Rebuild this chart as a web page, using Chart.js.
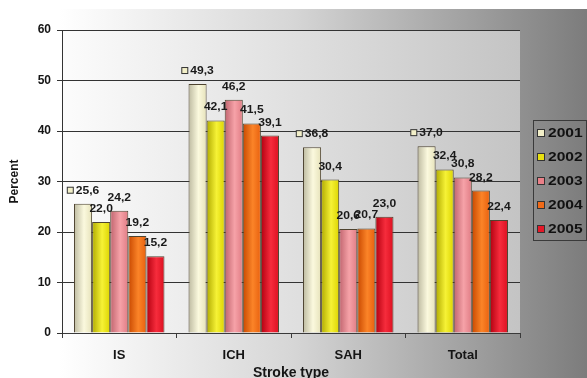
<!DOCTYPE html>
<html>
<head>
<meta charset="utf-8">
<script src="https://cdn.jsdelivr.net/npm/chart.js@4/dist/chart.umd.min.js"></script>
<style>
  html, body { margin: 0; padding: 0; background: #ffffff; }
  #wrap { width: 587px; height: 378px; position: relative; }
</style>
</head>
<body>
<div id="wrap"><canvas id="chart" width="587" height="378"></canvas></div>
<script>
// Stroke share by type and year (percent)
const categories = ['IS', 'ICH', 'SAH', 'Total'];
const years = ['2001', '2002', '2003', '2004', '2005'];
const values2001 = [25.6, 49.3, 36.8, 37.0];
const values2002 = [22.0, 42.1, 30.4, 32.4];
const values2003 = [24.2, 46.2, 20.6, 30.8];
const values2004 = [19.2, 41.5, 20.7, 28.2];
const values2005 = [15.2, 39.1, 23.0, 22.4];
const yTicks = [0, 10, 20, 30, 40, 50, 60];

const seriesValues = [values2001, values2002, values2003, values2004, values2005];
const baseColors = ['#f2efc8', '#e8e010', '#ea8088', '#f06a18', '#e41828'];
// [left edge, highlight, right edge] for the shaded bar faces
const shades = [
  ['#bdbaa0', '#fbf9de', '#e6e2ba'],
  ['#b0aa00', '#f6f236', '#dcd400'],
  ['#c0646e', '#f6a2a8', '#e07c84'],
  ['#c84800', '#fb8428', '#e8600e'],
  ['#b20010', '#f62c3c', '#dc1020']
];
const FONT = '"Liberation Sans", Arial, sans-serif';

const fmt = v => v.toFixed(1).replace('.', ',');

const backgroundPlugin = {
  id: 'bg',
  beforeDraw(chart) {
    const { ctx, width, height, chartArea: a } = chart;
    ctx.save();
    ctx.fillStyle = '#ffffff';
    ctx.fillRect(0, 0, width, height);
    const g = ctx.createLinearGradient(0, 0, width, 0);
    g.addColorStop(0, '#ffffff');
    g.addColorStop(0.1, '#ffffff');
    g.addColorStop(0.5, '#d6d6d6');
    g.addColorStop(1, '#7c7c7c');
    ctx.fillStyle = g;
    ctx.fillRect(0, 9, width, height - 9);
    const p = ctx.createLinearGradient(a.left, 0, a.right, 0);
    p.addColorStop(0, '#fcfcfc');
    p.addColorStop(1, '#c4c4c4');
    ctx.fillStyle = p;
    ctx.fillRect(a.left, a.top, a.right - a.left, a.bottom - a.top);
    ctx.restore();
  }
};

const barShadePlugin = {
  id: 'barShade',
  beforeDatasetsDraw(chart) {
    const ctx = chart.ctx;
    chart.data.datasets.forEach((ds, di) => {
      const meta = chart.getDatasetMeta(di);
      meta.data.forEach(bar => {
        const half = bar.width / 2;
        const g = ctx.createLinearGradient(bar.x - half, 0, bar.x + half, 0);
        const s = shades[di];
        g.addColorStop(0, s[0]);
        g.addColorStop(0.55, s[1]);
        g.addColorStop(1, s[2]);
        bar.options.backgroundColor = g;
      });
    });
  }
};

const valueLabelPlugin = {
  id: 'valueLabels',
  afterDatasetsDraw(chart) {
    const ctx = chart.ctx;
    ctx.save();
    ctx.font = 'bold 11px ' + FONT;
    ctx.textBaseline = 'middle';
    ctx.textAlign = 'left';
    chart.data.datasets.forEach((ds, di) => {
      const meta = chart.getDatasetMeta(di);
      meta.data.forEach((bar, i) => {
        const txt = fmt(ds.data[i]);
        const w = ctx.measureText(txt).width * 1.1;
        const key = di === 0 ? 9 : 0;
        const x0 = bar.x - (w + key) / 2;
        const y = bar.y - 13;
        if (key) {
          ctx.fillStyle = baseColors[0];
          ctx.strokeStyle = '#333';
          ctx.lineWidth = 1;
          ctx.fillRect(x0 + 0.5, y - 3.5, 6, 6);
          ctx.strokeRect(x0 + 0.5, y - 3.5, 6, 6);
        }
        ctx.save();
        ctx.translate(x0 + key, y);
        ctx.scale(1.1, 1);
        ctx.fillStyle = '#1a1a1a';
        ctx.fillText(txt, 0, 0);
        ctx.restore();
      });
    });
    ctx.restore();
  }
};

const legendPlugin = {
  id: 'boxLegend',
  afterDraw(chart) {
    const ctx = chart.ctx;
    ctx.save();
    ctx.strokeStyle = '#3a3a3a';
    ctx.lineWidth = 1;
    ctx.strokeRect(533.5, 120.5, 53, 120);
    ctx.font = 'bold 13px ' + FONT;
    ctx.textBaseline = 'middle';
    ctx.textAlign = 'left';
    chart.data.datasets.forEach((ds, i) => {
      const y = 133 + i * 24;
      ctx.fillStyle = baseColors[i];
      ctx.fillRect(537.5, y - 3.5, 7, 7);
      ctx.strokeStyle = '#333';
      ctx.strokeRect(537.5, y - 3.5, 7, 7);
      ctx.save();
      ctx.translate(548, y);
      ctx.scale(1.2, 1);
      ctx.fillStyle = '#111';
      ctx.fillText(ds.label, 0, 0);
      ctx.restore();
    });
    ctx.restore();
  }
};

const datasets = years.map((y, i) => ({
  label: y,
  data: seriesValues[i],
  backgroundColor: () => baseColors[i],
  borderColor: '#4e4430',
  borderWidth: 1,
  categoryPercentage: 0.79,
  barPercentage: 1.0
}));

new Chart(document.getElementById('chart'), {
  type: 'bar',
  data: { labels: categories, datasets },
  options: {
    responsive: false,
    animation: false,
    events: [],
    layout: { padding: { top: 30, right: 67, left: 0, bottom: 0 } },
    plugins: { legend: { display: false }, tooltip: { enabled: false } },
    scales: {
      x: {
        afterFit(scale) { scale.height = 45; },
        grid: { display: true, drawOnChartArea: false, offset: true, tickLength: 5, color: '#3a3a3a' },
        border: { color: '#3a3a3a', width: 1 },
        ticks: { font: { family: FONT, size: 13, weight: 'bold' }, color: '#151515', padding: 10 },
        title: {
          display: true, text: 'Stroke type', color: '#151515',
          font: { family: FONT, size: 14, weight: 'bold', lineHeight: 0.7 },
          padding: { top: 0, bottom: 0 }
        }
      },
      y: {
        min: 0, max: 60,
        afterFit(scale) { scale.width = 62; },
        afterBuildTicks(scale) { scale.ticks = yTicks.map(v => ({ value: v })); },
        grid: { color: '#333333', tickLength: 5, lineWidth: 1 },
        border: { color: '#333333', width: 1 },
        ticks: { font: { family: FONT, size: 12, weight: 'bold' }, color: '#151515', padding: 6 },
        title: {
          display: true, text: 'Percent', color: '#151515',
          font: { family: FONT, size: 12, weight: 'bold', lineHeight: 1 },
          padding: { top: 9, bottom: 0 }
        }
      }
    }
  },
  plugins: [backgroundPlugin, barShadePlugin, valueLabelPlugin, legendPlugin]
});
</script>
</body>
</html>
